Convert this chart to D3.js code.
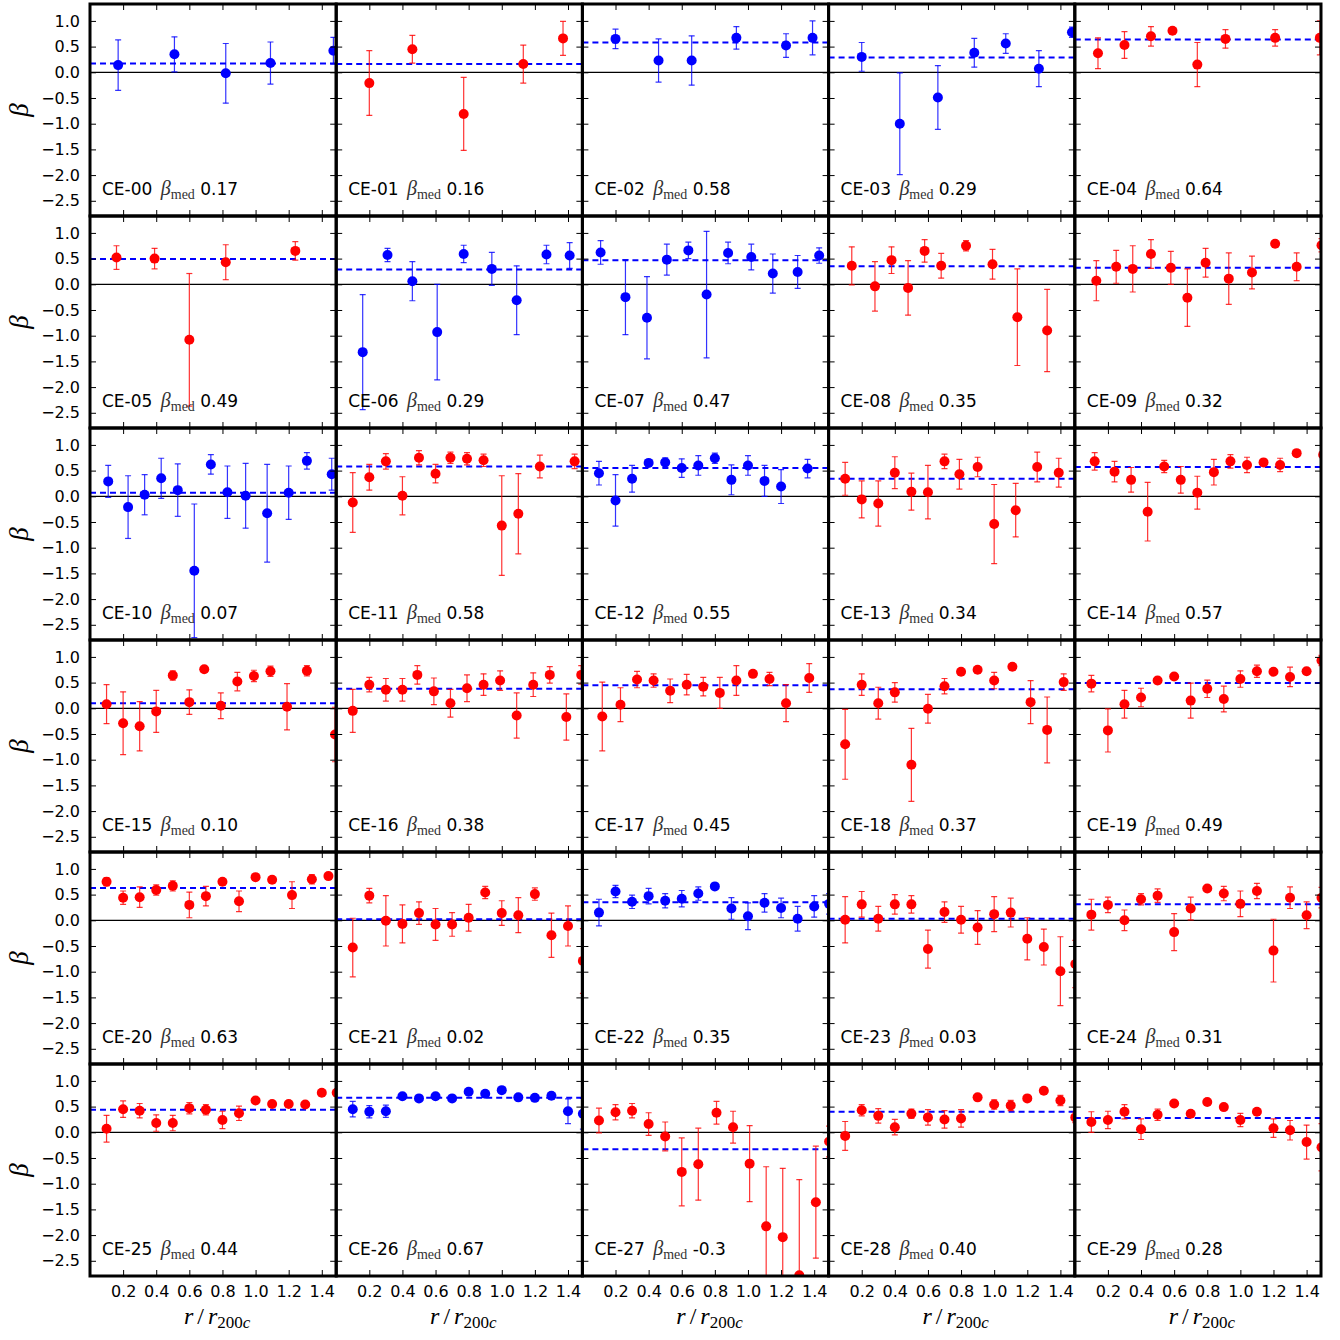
<!DOCTYPE html>
<html>
<head>
<meta charset="utf-8">
<script src="https://cdn.jsdelivr.net/npm/d3@7"></script>
<style>
  body { margin: 0; background: #fff; }
</style>
</head>
<body>
<div id="chart"></div>
<script>
// cluster labels and the median beta printed in each panel
var clusterNames = ["CE-00", "CE-01", "CE-02", "CE-03", "CE-04", "CE-05", "CE-06", "CE-07", "CE-08", "CE-09",
  "CE-10", "CE-11", "CE-12", "CE-13", "CE-14", "CE-15", "CE-16", "CE-17", "CE-18", "CE-19",
  "CE-20", "CE-21", "CE-22", "CE-23", "CE-24", "CE-25", "CE-26", "CE-27", "CE-28", "CE-29"];
var medianText = ["0.17", "0.16", "0.58", "0.29", "0.64", "0.49", "0.29", "0.47", "0.35", "0.32",
  "0.07", "0.58", "0.55", "0.34", "0.57", "0.10", "0.38", "0.45", "0.37", "0.49",
  "0.63", "0.02", "0.35", "0.03", "0.31", "0.44", "0.67", "-0.3", "0.40", "0.28"];
var medianBeta = [0.17, 0.16, 0.58, 0.29, 0.64, 0.49, 0.29, 0.47, 0.35, 0.32,
  0.07, 0.58, 0.55, 0.34, 0.57, 0.10, 0.38, 0.45, 0.37, 0.49,
  0.63, 0.02, 0.35, 0.03, 0.31, 0.44, 0.67, -0.33, 0.40, 0.28];
// clusters drawn in blue (the rest are red)
var blueClusters = [0, 2, 3, 6, 7, 10, 12, 22, 26];

var rBins15 = [0.10, 0.20, 0.30, 0.40, 0.50, 0.60, 0.70, 0.80, 0.90, 1.00, 1.10, 1.20, 1.30, 1.40, 1.49];

// radius of each point, r/r200c
var radius = [
  [0.17, 0.51, 0.82, 1.09, 1.47],
  [0.20, 0.46, 0.77, 1.13, 1.37],
  [0.20, 0.46, 0.66, 0.93, 1.23, 1.39],
  [0.20, 0.43, 0.66, 0.88, 1.07, 1.27, 1.47],
  [0.14, 0.30, 0.46, 0.59, 0.74, 0.91, 1.21, 1.48],
  [0.16, 0.39, 0.60, 0.82, 1.24],
  [0.16, 0.31, 0.46, 0.61, 0.77, 0.94, 1.09, 1.27, 1.41],
  [0.11, 0.26, 0.39, 0.51, 0.64, 0.75, 0.88, 1.02, 1.15, 1.30, 1.43],
  [0.14, 0.28, 0.38, 0.48, 0.58, 0.68, 0.83, 0.99, 1.14, 1.32],
  [0.13, 0.25, 0.35, 0.46, 0.58, 0.68, 0.79, 0.93, 1.07, 1.21, 1.34, 1.49],
  [0.11, 0.23, 0.33, 0.43, 0.53, 0.63, 0.73, 0.83, 0.94, 1.07, 1.20, 1.31, 1.46],
  [0.10, 0.20, 0.30, 0.40, 0.50, 0.60, 0.69, 0.79, 0.89, 1.00, 1.10, 1.23, 1.44],
  [0.10, 0.20, 0.30, 0.40, 0.50, 0.60, 0.70, 0.80, 0.90, 1.00, 1.10, 1.20, 1.36],
  [0.10, 0.20, 0.30, 0.40, 0.50, 0.60, 0.70, 0.79, 0.90, 1.00, 1.13, 1.26, 1.39],
  [0.12, 0.24, 0.34, 0.44, 0.54, 0.64, 0.74, 0.84, 0.94, 1.04, 1.14, 1.24, 1.34, 1.50],
  [0.10, 0.20, 0.30, 0.40, 0.50, 0.60, 0.69, 0.79, 0.89, 0.99, 1.09, 1.19, 1.31, 1.48],
  [0.10, 0.20, 0.30, 0.40, 0.49, 0.59, 0.69, 0.79, 0.89, 0.99, 1.09, 1.19, 1.29, 1.39, 1.48],
  [0.12, 0.23, 0.33, 0.43, 0.53, 0.63, 0.73, 0.83, 0.93, 1.03, 1.13, 1.23, 1.37],
  [0.10, 0.20, 0.30, 0.40, 0.50, 0.60, 0.70, 0.80, 0.90, 1.00, 1.11, 1.22, 1.32, 1.42],
  rBins15,
  [0.10, 0.20, 0.30, 0.40, 0.50, 0.60, 0.70, 0.80, 0.90, 1.00, 1.10, 1.22, 1.34, 1.44],
  rBins15, rBins15, rBins15, rBins15, rBins15, rBins15,
  [0.10, 0.20, 0.30, 0.40, 0.50, 0.60, 0.70, 0.81, 0.91, 1.01, 1.11, 1.21, 1.31, 1.41, 1.49],
  rBins15, rBins15
];

// anisotropy beta of each point
var beta = [
  [0.14, 0.35, -0.02, 0.18, 0.42],
  [-0.21, 0.45, -0.81, 0.16, 0.66],
  [0.65, 0.23, 0.23, 0.67, 0.52, 0.67],
  [0.30, -1.00, -0.49, 0.38, 0.56, 0.07, 0.78],
  [0.37, 0.53, 0.70, 0.81, 0.15, 0.65, 0.67, 0.67],
  [0.52, 0.50, -1.08, 0.43, 0.65],
  [-1.32, 0.57, 0.06, -0.93, 0.59, 0.30, -0.31, 0.58, 0.56],
  [0.62, -0.25, -0.65, 0.48, 0.66, -0.20, 0.61, 0.53, 0.21, 0.24, 0.56],
  [0.36, -0.04, 0.47, -0.07, 0.65, 0.36, 0.75, 0.39, -0.64, -0.90],
  [0.07, 0.34, 0.30, 0.59, 0.32, -0.26, 0.42, 0.11, 0.23, 0.79, 0.34, 0.76],
  [0.29, -0.21, 0.03, 0.35, 0.12, -1.45, 0.62, 0.08, 0.01, -0.33, 0.07, 0.69, 0.43],
  [-0.12, 0.37, 0.68, 0.01, 0.75, 0.44, 0.75, 0.73, 0.70, -0.57, -0.34, 0.58, 0.68],
  [0.45, -0.08, 0.34, 0.65, 0.66, 0.55, 0.60, 0.74, 0.32, 0.60, 0.30, 0.19, 0.54],
  [0.34, -0.06, -0.14, 0.46, 0.09, 0.08, 0.68, 0.43, 0.57, -0.54, -0.27, 0.57, 0.46],
  [0.68, 0.48, 0.32, -0.30, 0.58, 0.32, 0.07, 0.47, 0.68, 0.61, 0.66, 0.61, 0.84, 0.81],
  [0.08, -0.29, -0.35, -0.06, 0.64, 0.12, 0.76, 0.05, 0.52, 0.63, 0.72, 0.03, 0.73, -0.51],
  [-0.05, 0.46, 0.36, 0.36, 0.65, 0.33, 0.10, 0.39, 0.46, 0.54, -0.14, 0.46, 0.65, -0.17, 0.65],
  [-0.16, 0.07, 0.56, 0.54, 0.34, 0.46, 0.42, 0.30, 0.54, 0.67, 0.57, 0.10, 0.59],
  [-0.70, 0.46, 0.10, 0.31, -1.10, -0.01, 0.43, 0.71, 0.75, 0.54, 0.81, 0.12, -0.42, 0.51],
  [0.48, -0.43, 0.08, 0.21, 0.54, 0.62, 0.15, 0.38, 0.18, 0.57, 0.72, 0.71, 0.61, 0.72, 0.93],
  [0.75, 0.44, 0.45, 0.59, 0.67, 0.30, 0.47, 0.75, 0.37, 0.84, 0.79, 0.49, 0.80, 0.86],
  [-0.53, 0.48, -0.01, -0.07, 0.14, -0.08, -0.08, 0.05, 0.54, 0.14, 0.10, 0.51, -0.29, -0.11, -0.79],
  [0.15, 0.56, 0.36, 0.47, 0.38, 0.42, 0.52, 0.66, 0.23, 0.08, 0.34, 0.24, 0.03, 0.27, 0.32],
  [0.01, 0.31, 0.03, 0.31, 0.31, -0.56, 0.16, 0.01, -0.14, 0.12, 0.15, -0.36, -0.52, -0.99, -0.85],
  [0.11, 0.30, 0.00, 0.41, 0.48, -0.23, 0.23, 0.62, 0.52, 0.32, 0.57, -0.59, 0.44, 0.10, 0.44],
  [0.07, 0.45, 0.42, 0.18, 0.18, 0.47, 0.44, 0.24, 0.37, 0.62, 0.55, 0.55, 0.54, 0.77, 0.77],
  [0.45, 0.40, 0.41, 0.70, 0.66, 0.70, 0.66, 0.79, 0.75, 0.82, 0.68, 0.67, 0.71, 0.41, 0.36],
  [0.23, 0.39, 0.42, 0.16, -0.08, -0.77, -0.62, 0.38, 0.10, -0.61, -1.83, -2.04, -2.78, -1.36, -0.18],
  [-0.07, 0.43, 0.32, 0.10, 0.36, 0.29, 0.25, 0.27, 0.68, 0.54, 0.52, 0.66, 0.81, 0.62, 0.29],
  [0.20, 0.24, 0.40, 0.06, 0.34, 0.56, 0.36, 0.59, 0.49, 0.24, 0.40, 0.08, 0.04, -0.19, -0.29]
];

// symmetric error on beta
var betaErr = [
  [0.49, 0.34, 0.58, 0.41, 0.26],
  [0.63, 0.27, 0.71, 0.37, 0.33],
  [0.19, 0.42, 0.48, 0.22, 0.23, 0.33],
  [0.28, 0.99, 0.62, 0.28, 0.19, 0.35, 0.10],
  [0.30, 0.26, 0.19, 0.05, 0.43, 0.18, 0.16, 0.33],
  [0.23, 0.20, 1.29, 0.34, 0.18],
  [1.12, 0.13, 0.38, 0.93, 0.17, 0.32, 0.67, 0.18, 0.25],
  [0.23, 0.73, 0.80, 0.30, 0.16, 1.23, 0.21, 0.25, 0.38, 0.32, 0.15],
  [0.37, 0.48, 0.26, 0.53, 0.22, 0.24, 0.10, 0.29, 0.94, 0.80],
  [0.39, 0.32, 0.45, 0.28, 0.32, 0.56, 0.28, 0.50, 0.32, 0.05, 0.27, 0.13],
  [0.31, 0.61, 0.39, 0.39, 0.51, 1.30, 0.19, 0.51, 0.63, 0.95, 0.52, 0.16, 0.31],
  [0.58, 0.25, 0.15, 0.37, 0.14, 0.18, 0.11, 0.12, 0.12, 0.97, 0.78, 0.22, 0.14],
  [0.23, 0.50, 0.26, 0.06, 0.09, 0.18, 0.19, 0.10, 0.29, 0.19, 0.30, 0.33, 0.18],
  [0.32, 0.36, 0.44, 0.31, 0.36, 0.52, 0.14, 0.29, 0.19, 0.77, 0.52, 0.29, 0.28],
  [0.17, 0.20, 0.24, 0.57, 0.12, 0.26, 0.32, 0.25, 0.13, 0.15, 0.06, 0.13, 0.05, 0.10],
  [0.38, 0.61, 0.48, 0.41, 0.09, 0.24, 0.05, 0.25, 0.18, 0.11, 0.10, 0.45, 0.10, 0.53],
  [0.42, 0.14, 0.22, 0.22, 0.18, 0.26, 0.27, 0.26, 0.21, 0.19, 0.44, 0.23, 0.16, 0.45, 0.18],
  [0.67, 0.33, 0.16, 0.13, 0.23, 0.20, 0.18, 0.30, 0.29, 0.05, 0.13, 0.36, 0.28],
  [0.68, 0.21, 0.31, 0.19, 0.71, 0.28, 0.15, 0.05, 0.05, 0.16, 0.05, 0.42, 0.64, 0.16],
  [0.16, 0.42, 0.27, 0.18, 0.06, 0.05, 0.34, 0.17, 0.25, 0.16, 0.12, 0.05, 0.19, 0.05, 0.10],
  [0.08, 0.13, 0.20, 0.10, 0.10, 0.25, 0.19, 0.05, 0.20, 0.05, 0.05, 0.26, 0.09, 0.05],
  [0.57, 0.14, 0.49, 0.37, 0.22, 0.31, 0.23, 0.26, 0.12, 0.24, 0.34, 0.12, 0.43, 0.39, 0.63],
  [0.26, 0.12, 0.13, 0.15, 0.14, 0.16, 0.13, 0.05, 0.21, 0.26, 0.18, 0.19, 0.24, 0.21, 0.20],
  [0.45, 0.25, 0.24, 0.19, 0.17, 0.37, 0.20, 0.26, 0.33, 0.34, 0.28, 0.41, 0.35, 0.67, 0.46],
  [0.30, 0.15, 0.20, 0.11, 0.13, 0.36, 0.22, 0.05, 0.14, 0.25, 0.15, 0.61, 0.21, 0.26, 0.20],
  [0.26, 0.16, 0.14, 0.16, 0.15, 0.11, 0.10, 0.17, 0.14, 0.05, 0.05, 0.05, 0.05, 0.05, 0.05],
  [0.15, 0.12, 0.12, 0.05, 0.05, 0.05, 0.05, 0.05, 0.05, 0.05, 0.05, 0.06, 0.05, 0.24, 0.30],
  [0.24, 0.15, 0.14, 0.22, 0.28, 0.66, 0.70, 0.22, 0.31, 0.74, 1.16, 1.34, 1.86, 1.09, 0.30],
  [0.28, 0.11, 0.14, 0.15, 0.09, 0.15, 0.17, 0.17, 0.05, 0.09, 0.10, 0.05, 0.05, 0.10, 0.10],
  [0.20, 0.17, 0.14, 0.20, 0.11, 0.05, 0.05, 0.05, 0.05, 0.13, 0.06, 0.18, 0.19, 0.33, 0.46]
];

var xTicks = [0.2, 0.4, 0.6, 0.8, 1.0, 1.2, 1.4];
var yTicks = [-2.5, -2.0, -1.5, -1.0, -0.5, 0.0, 0.5, 1.0];

var nCols = 5;
var nRows = 6;
var gridLeft = 90;
var gridTop = 4;
var panelWidth = 246.2;
var panelHeight = 212;

var sansFont = "DejaVu Sans, sans-serif";
var serifFont = "Liberation Serif, DejaVu Serif, serif";

var xScale = d3.scaleLinear().domain([0, 1.487]).range([0, panelWidth]);
var yScale = d3.scaleLinear().domain([-2.796, 1.329]).range([panelHeight, 0]);

var svg = d3.select("#chart")
  .append("svg")
  .attr("width", 1340)
  .attr("height", 1340)
  .attr("font-family", sansFont);

svg.append("rect").attr("width", 1340).attr("height", 1340).attr("fill", "#fff");

svg.append("defs").append("clipPath")
  .attr("id", "panel-clip")
  .append("rect")
  .attr("width", panelWidth)
  .attr("height", panelHeight);

function colourOf(i) {
  return blueClusters.indexOf(i) >= 0 ? "#0000ff" : "#ff0000";
}

for (var i = 0; i < clusterNames.length; i++) {
  var row = Math.floor(i / nCols);
  var col = i % nCols;
  var colour = colourOf(i);

  var panel = svg.append("g")
    .attr("transform", "translate(" + (gridLeft + col * panelWidth) + "," + (gridTop + row * panelHeight) + ")");

  var plot = panel.append("g").attr("clip-path", "url(#panel-clip)");

  // zero line
  plot.append("line")
    .attr("x1", 0).attr("x2", panelWidth)
    .attr("y1", yScale(0)).attr("y2", yScale(0))
    .attr("stroke", "#000").attr("stroke-width", 1.3);

  // median line
  plot.append("line")
    .attr("x1", 0).attr("x2", panelWidth)
    .attr("y1", yScale(medianBeta[i])).attr("y2", yScale(medianBeta[i]))
    .attr("stroke", "#0000ff").attr("stroke-width", 2)
    .attr("stroke-dasharray", "6,4");

  var points = radius[i].map(function(r, k) {
    return { r: r, b: beta[i][k], e: betaErr[i][k] };
  });

  var bars = plot.selectAll(".err").data(points).enter().append("g")
    .attr("class", "err")
    .attr("stroke", colour)
    .attr("stroke-width", 1.2)
    .attr("stroke-opacity", 0.8);

  bars.append("line")
    .attr("x1", function(d) { return xScale(d.r); })
    .attr("x2", function(d) { return xScale(d.r); })
    .attr("y1", function(d) { return yScale(d.b - d.e); })
    .attr("y2", function(d) { return yScale(d.b + d.e); });

  bars.append("line")
    .attr("x1", function(d) { return xScale(d.r) - 3; })
    .attr("x2", function(d) { return xScale(d.r) + 3; })
    .attr("y1", function(d) { return yScale(d.b + d.e); })
    .attr("y2", function(d) { return yScale(d.b + d.e); });

  bars.append("line")
    .attr("x1", function(d) { return xScale(d.r) - 3; })
    .attr("x2", function(d) { return xScale(d.r) + 3; })
    .attr("y1", function(d) { return yScale(d.b - d.e); })
    .attr("y2", function(d) { return yScale(d.b - d.e); });

  plot.selectAll(".dot").data(points).enter().append("circle")
    .attr("class", "dot")
    .attr("cx", function(d) { return xScale(d.r); })
    .attr("cy", function(d) { return yScale(d.b); })
    .attr("r", 5)
    .attr("fill", colour);

  // panel label
  var label = panel.append("text")
    .attr("x", 12)
    .attr("y", panelHeight - 21)
    .attr("font-size", 17)
    .attr("fill", "#000");
  label.append("tspan").text(clusterNames[i] + " ");
  label.append("tspan")
    .attr("dx", 3)
    .attr("font-family", serifFont)
    .attr("font-style", "italic")
    .attr("font-size", 20)
    .attr("fill", "#333")
    .text("β");
  label.append("tspan")
    .attr("dy", 4)
    .attr("font-family", serifFont)
    .attr("font-size", 14)
    .attr("fill", "#333")
    .text("med");
  label.append("tspan")
    .attr("dy", -4)
    .text(" " + medianText[i]);

  // axes with inward ticks on all four sides
  var bottomAxis = d3.axisBottom(xScale).tickValues(xTicks).tickSize(-6).tickPadding(10)
    .tickFormat(row === nRows - 1 ? d3.format(".1f") : function() { return ""; });
  var topAxis = d3.axisTop(xScale).tickValues(xTicks).tickSize(-6).tickFormat(function() { return ""; });
  var leftAxis = d3.axisLeft(yScale).tickValues(yTicks).tickSize(-6).tickPadding(10)
    .tickFormat(col === 0 ? d3.format(".1f") : function() { return ""; });
  var rightAxis = d3.axisRight(yScale).tickValues(yTicks).tickSize(-6).tickFormat(function() { return ""; });

  var axes = [
    panel.append("g").attr("transform", "translate(0," + panelHeight + ")").call(bottomAxis),
    panel.append("g").call(topAxis),
    panel.append("g").call(leftAxis),
    panel.append("g").attr("transform", "translate(" + panelWidth + ",0)").call(rightAxis)
  ];
  axes.forEach(function(a) {
    a.attr("font-family", sansFont).attr("font-size", 16);
    a.select(".domain").remove();
    a.selectAll("line").attr("stroke", "#000").attr("stroke-width", 1);
    a.selectAll("text").attr("fill", "#000");
  });

  panel.append("rect")
    .attr("width", panelWidth)
    .attr("height", panelHeight)
    .attr("fill", "none")
    .attr("stroke", "#000")
    .attr("stroke-width", 3);
}

// y axis labels
for (var r = 0; r < nRows; r++) {
  svg.append("text")
    .attr("transform", "translate(28," + (gridTop + r * panelHeight + panelHeight / 2) + ") rotate(-90)")
    .attr("text-anchor", "middle")
    .attr("font-family", serifFont)
    .attr("font-style", "italic")
    .attr("font-size", 27)
    .text("β");
}

// x axis labels
for (var c = 0; c < nCols; c++) {
  var xl = svg.append("text")
    .attr("x", gridLeft + c * panelWidth + panelWidth / 2 + 4)
    .attr("y", 1324)
    .attr("text-anchor", "middle")
    .attr("font-family", serifFont)
    .attr("font-size", 24);
  xl.append("tspan").attr("font-style", "italic").text("r");
  xl.append("tspan").attr("dx", 4).text("/");
  xl.append("tspan").attr("dx", 4).attr("font-style", "italic").text("r");
  xl.append("tspan").attr("dy", 4).attr("font-size", 17).text("200");
  xl.append("tspan").attr("font-size", 17).attr("font-style", "italic").text("c");
}
</script>
</body>
</html>
